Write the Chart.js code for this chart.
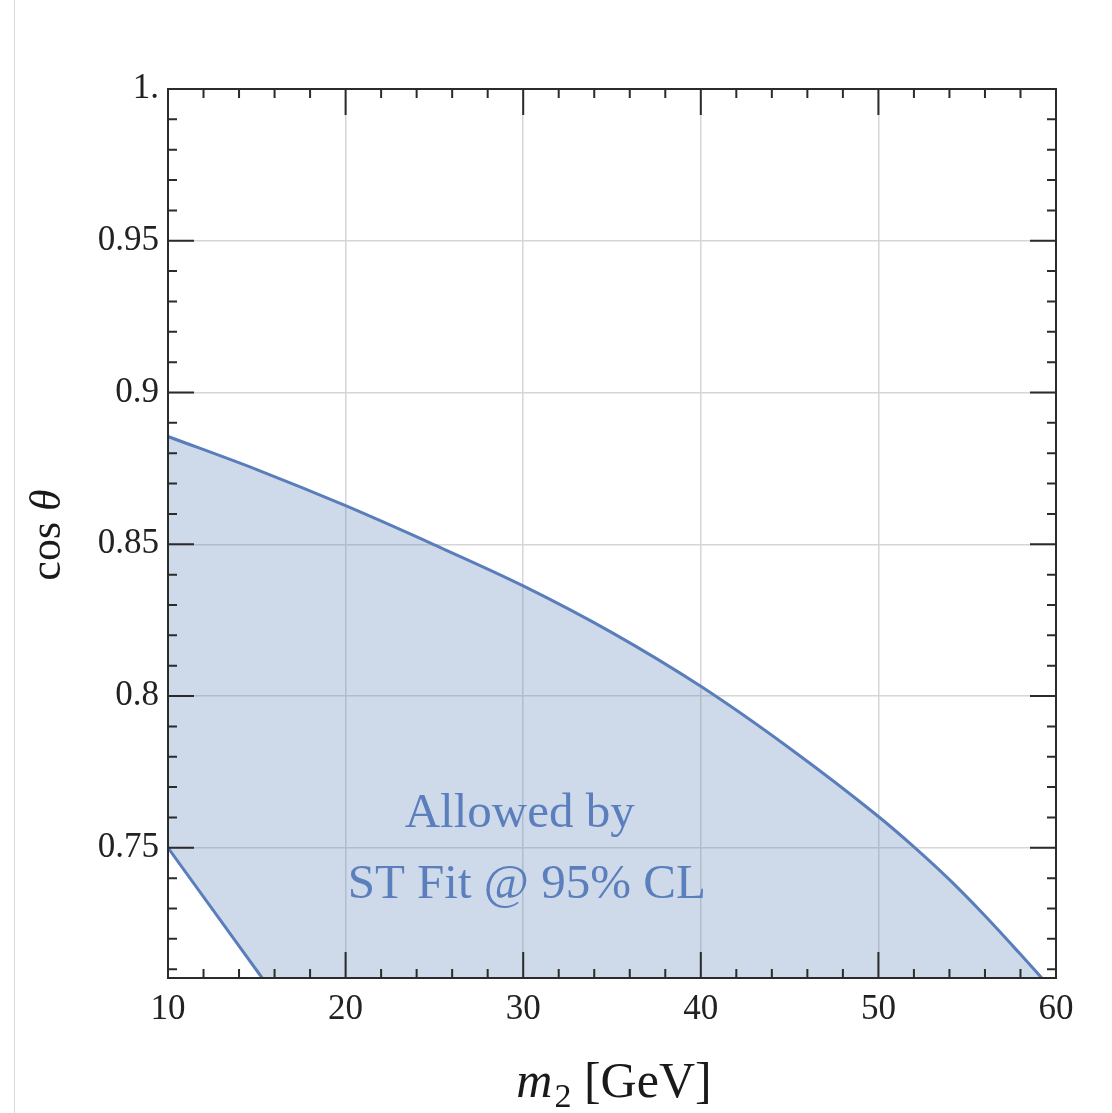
<!DOCTYPE html>
<html>
<head>
<meta charset="utf-8">
<script src="https://cdn.jsdelivr.net/npm/chart.js@4/dist/chart.umd.min.js"></script>
<style>
  html, body { margin: 0; padding: 0; background: #fff; }
  #wrap { position: relative; width: 1112px; height: 1113px; }
  #edge { position: absolute; left: 14px; top: 0; width: 1px; height: 1113px; background: #d9d9d9; }
  canvas { position: absolute; left: 0; top: 0; }
</style>
</head>
<body>
<div id="wrap">
  <div id="edge"></div>
  <canvas id="c" width="1112" height="1113"></canvas>
</div>
<script>
// ---- data ----
const xTicks = [10, 20, 30, 40, 50, 60];
const xTickLabels = ['10', '20', '30', '40', '50', '60'];
const yTicks = [0.75, 0.8, 0.85, 0.9, 0.95, 1];
const yTickLabels = ['0.75', '0.8', '0.85', '0.9', '0.95', '1.'];
const xMinorTicks = [12, 14, 16, 18, 22, 24, 26, 28, 32, 34, 36, 38, 42, 44, 46, 48, 52, 54, 56, 58];
const yMinorTicks = [0.71, 0.72, 0.73, 0.74, 0.76, 0.77, 0.78, 0.79, 0.81, 0.82, 0.83, 0.84,
                     0.86, 0.87, 0.88, 0.89, 0.91, 0.92, 0.93, 0.94, 0.96, 0.97, 0.98, 0.99];

// upper boundary of the allowed region
const upperM2  = [10, 15, 20, 25, 30, 35, 40, 45, 50, 52, 54, 56, 58, 59.2];
const upperCos = [0.8855, 0.8746, 0.8627, 0.8498, 0.8363, 0.8209, 0.8032, 0.7828, 0.7603, 0.7503, 0.7395, 0.7276, 0.7149, 0.7071];
// lower boundary of the allowed region
const lowerM2  = [10, 15.3];
const lowerCos = [0.75, 0.7071];

const annotationLines = ['Allowed by', 'ST Fit @ 95% CL'];
const xTitle = { italic: 'm', sub: '2', rest: ' [GeV]' };
const yTitle = { normal: 'cos ', italic: 'θ' };

const X_MIN = 10, X_MAX = 60, Y_MIN = 0.7071, Y_MAX = 1;

const upperPts = upperM2.map((x, i) => ({ x: x, y: upperCos[i] }));
const lowerPts = lowerM2.map((x, i) => ({ x: x, y: lowerCos[i] }));

const SERIF = "'Liberation Serif', 'DejaVu Serif', serif";
const LINE = '#5a7dbb';
const TEXT_BLUE = '#5b7fbd';

const framePlugin = {
  id: 'frame',
  afterDatasetsDraw(chart) {
    const ctx = chart.ctx;
    const a = chart.chartArea;
    const xs = chart.scales.x, ys = chart.scales.y;
    ctx.save();

    // annotation text
    ctx.fillStyle = TEXT_BLUE;
    ctx.font = '49px ' + SERIF;
    ctx.textAlign = 'center';
    ctx.textBaseline = 'alphabetic';
    ctx.fillText(annotationLines[0], xs.getPixelForValue(29.8), ys.getPixelForValue(0.7569));
    ctx.fillText(annotationLines[1], xs.getPixelForValue(30.2), ys.getPixelForValue(0.7335));

    // frame
    ctx.strokeStyle = '#2b2b2b';
    ctx.lineWidth = 2;
    ctx.strokeRect(a.left, a.top, a.right - a.left, a.bottom - a.top);

    // ticks (inward, all four sides)
    const MAJ = 26, MIN = 9;
    ctx.lineWidth = 2;
    ctx.beginPath();
    xTicks.forEach(v => {
      const p = xs.getPixelForValue(v);
      ctx.moveTo(p, a.bottom); ctx.lineTo(p, a.bottom - MAJ);
      ctx.moveTo(p, a.top); ctx.lineTo(p, a.top + MAJ);
    });
    xMinorTicks.forEach(v => {
      const p = xs.getPixelForValue(v);
      ctx.moveTo(p, a.bottom); ctx.lineTo(p, a.bottom - MIN);
      ctx.moveTo(p, a.top); ctx.lineTo(p, a.top + MIN);
    });
    yTicks.forEach(v => {
      const p = ys.getPixelForValue(v);
      ctx.moveTo(a.left, p); ctx.lineTo(a.left + MAJ, p);
      ctx.moveTo(a.right, p); ctx.lineTo(a.right - MAJ, p);
    });
    yMinorTicks.forEach(v => {
      const p = ys.getPixelForValue(v);
      ctx.moveTo(a.left, p); ctx.lineTo(a.left + MIN, p);
      ctx.moveTo(a.right, p); ctx.lineTo(a.right - MIN, p);
    });
    ctx.stroke();

    // x-axis title: m_2 [GeV]
    ctx.fillStyle = '#1a1a1a';
    ctx.textAlign = 'left';
    ctx.textBaseline = 'alphabetic';
    const fBig = 50, fSub = 34;
    ctx.font = 'italic ' + fBig + 'px ' + SERIF;
    const wM = ctx.measureText(xTitle.italic).width;
    ctx.font = fSub + 'px ' + SERIF;
    const wS = ctx.measureText(xTitle.sub).width;
    ctx.font = fBig + 'px ' + SERIF;
    const wR = ctx.measureText(xTitle.rest).width;
    const total = wM + 2 + wS + wR;
    let x0 = (a.left + a.right) / 2 - total / 2 + 2;
    const base = 1097;
    ctx.font = 'italic ' + fBig + 'px ' + SERIF;
    ctx.fillText(xTitle.italic, x0, base);
    x0 += wM + 2;
    ctx.font = fSub + 'px ' + SERIF;
    ctx.fillText(xTitle.sub, x0, base + 10);
    x0 += wS;
    ctx.font = fBig + 'px ' + SERIF;
    ctx.fillText(xTitle.rest, x0, base);

    // y-axis title: cos θ (rotated)
    ctx.save();
    ctx.translate(60, 535);
    ctx.rotate(-Math.PI / 2);
    const fy = 44;
    ctx.font = fy + 'px ' + SERIF;
    const wc = ctx.measureText(yTitle.normal).width;
    ctx.font = 'italic ' + fy + 'px ' + SERIF;
    const wt = ctx.measureText(yTitle.italic).width;
    let s = -(wc + wt) / 2;
    ctx.font = fy + 'px ' + SERIF;
    ctx.fillText(yTitle.normal, s, 0);
    ctx.font = 'italic ' + fy + 'px ' + SERIF;
    ctx.fillText(yTitle.italic, s + wc, 0);
    ctx.restore();

    ctx.restore();
  }
};

new Chart(document.getElementById('c'), {
  type: 'scatter',
  data: {
    datasets: [
      {
        // lower boundary: blank triangle below it
        data: lowerPts,
        showLine: true,
        fill: 'start',
        backgroundColor: '#ffffff',
        borderColor: LINE,
        borderWidth: 3,
        pointRadius: 0,
        tension: 0,
        order: 0
      },
      {
        // upper boundary: allowed region below it
        data: upperPts,
        showLine: true,
        fill: 'start',
        backgroundColor: 'rgba(94,129,181,0.30)',
        borderColor: LINE,
        borderWidth: 3,
        pointRadius: 0,
        cubicInterpolationMode: 'monotone',
        order: 1
      }
    ]
  },
  options: {
    responsive: false,
    animation: false,
    devicePixelRatio: 1,
    layout: { padding: { top: 89, right: 56, left: 0, bottom: 0 } },
    plugins: { legend: { display: false }, tooltip: { enabled: false } },
    scales: {
      x: {
        type: 'linear',
        min: X_MIN, max: X_MAX,
        afterBuildTicks: s => { s.ticks = xTicks.map(v => ({ value: v })); },
        afterFit: s => { s.height = 135; },
        ticks: {
          callback: (v, i) => xTickLabels[i],
          font: { family: SERIF, size: 35 },
          color: '#222',
          padding: 11,
          maxRotation: 0
        },
        grid: { color: '#d6d6d6', lineWidth: 1.5, drawTicks: false },
        border: { display: false }
      },
      y: {
        type: 'linear',
        min: Y_MIN, max: Y_MAX,
        afterBuildTicks: s => { s.ticks = yTicks.map(v => ({ value: v })); },
        afterFit: s => { s.width = 168; },
        ticks: {
          callback: (v, i) => yTickLabels[i],
          font: { family: SERIF, size: 35 },
          color: '#222',
          padding: 9
        },
        grid: { color: '#d6d6d6', lineWidth: 1.5, drawTicks: false },
        border: { display: false }
      }
    }
  },
  plugins: [framePlugin]
});
</script>
</body>
</html>
